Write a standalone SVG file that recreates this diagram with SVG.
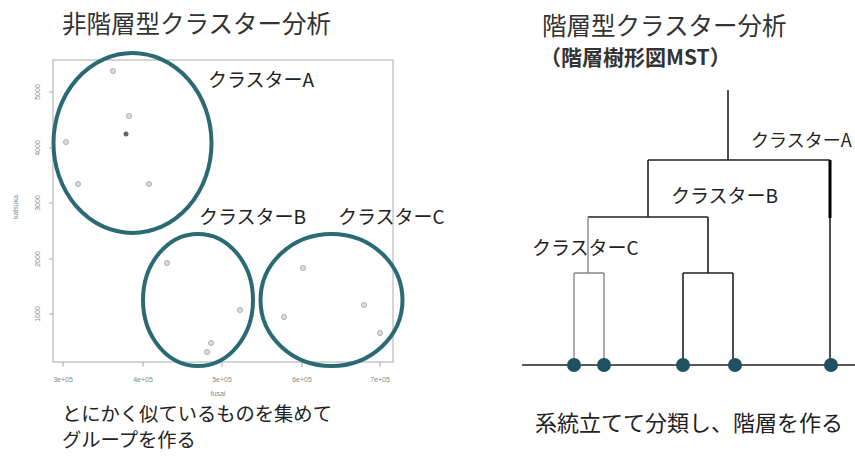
<svg xmlns="http://www.w3.org/2000/svg" width="855" height="466" viewBox="0 0 855 466">
<style>
text{font-family:"Noto Sans CJK JP","Noto Sans",sans-serif;fill:#333}
.title{font-size:24.5px}
.lbl{font-size:19px;fill:#222}
.note{font-size:19.3px;fill:#222}
.tick{font-size:7px;fill:#888;font-family:"Liberation Sans",sans-serif}
.ell{fill:none;stroke:#2b6a74;stroke-width:4}
.pt{fill:#ddd;stroke:#aaa;stroke-width:1}
.ax{stroke:#aaa;stroke-width:1;fill:none}
.dl{stroke:#222;stroke-width:1.6;fill:none}
.dg{stroke:#888;stroke-width:1.4;fill:none}
.leaf{fill:#1f5260}
</style>
<rect width="855" height="466" fill="#fff"/>

<g id="left-title"><text class="title" x="62" y="33">非階層型クラスター分析</text></g>

<g id="scatter-plot">
<rect class="ax" x="53" y="60" width="340" height="302"/>
<path class="ax" d="M63 362v5M143 362v5M222 362v5M302 362v5M380 362v5M53 92h-4M53 148h-4M53 203h-4M53 259h-4M53 314h-4"/>
<text class="tick" x="63" y="382" text-anchor="middle">3e+05</text>
<text class="tick" x="143" y="382" text-anchor="middle">4e+05</text>
<text class="tick" x="222" y="382" text-anchor="middle">5e+05</text>
<text class="tick" x="302" y="382" text-anchor="middle">6e+05</text>
<text class="tick" x="380" y="382" text-anchor="middle">7e+05</text>
<text class="tick" x="218" y="396" text-anchor="middle">fusai</text>
<text class="tick" transform="translate(40 92) rotate(-90)" text-anchor="middle">5000</text>
<text class="tick" transform="translate(40 148) rotate(-90)" text-anchor="middle">4000</text>
<text class="tick" transform="translate(40 203) rotate(-90)" text-anchor="middle">3000</text>
<text class="tick" transform="translate(40 259) rotate(-90)" text-anchor="middle">2000</text>
<text class="tick" transform="translate(40 314) rotate(-90)" text-anchor="middle">1000</text>
<text class="tick" transform="translate(18 207) rotate(-90)" text-anchor="middle">katsuka</text>
<circle class="pt" cx="113" cy="71" r="2.5"/>
<circle class="pt" cx="129" cy="116" r="2.5"/>
<circle cx="126" cy="134" r="2.5" fill="#666"/>
<circle class="pt" cx="66" cy="142" r="2.5"/>
<circle class="pt" cx="78" cy="184" r="2.5"/>
<circle class="pt" cx="149" cy="184" r="2.5"/>
<circle class="pt" cx="167" cy="263" r="2.5"/>
<circle class="pt" cx="240" cy="310" r="2.5"/>
<circle class="pt" cx="211" cy="343" r="2.5"/>
<circle class="pt" cx="207" cy="352" r="2.5"/>
<circle class="pt" cx="303" cy="268" r="2.5"/>
<circle class="pt" cx="284" cy="317" r="2.5"/>
<circle class="pt" cx="364" cy="305" r="2.5"/>
<circle class="pt" cx="380" cy="333" r="2.5"/>
</g>

<g id="cluster-a"><ellipse class="ell" cx="132.5" cy="143" rx="79" ry="90"/><text class="lbl" x="208" y="87">クラスターA</text></g>
<g id="cluster-b"><ellipse class="ell" cx="198" cy="300" rx="55" ry="66"/><text class="lbl" x="199" y="224">クラスターB</text></g>
<g id="cluster-c"><ellipse class="ell" cx="331.5" cy="300" rx="71" ry="66"/><text class="lbl" x="338" y="224">クラスターC</text></g>

<g id="left-note"><text class="note" x="62" y="421">とにかく似ているものを集めて</text><text class="note" x="62" y="447">グループを作る</text></g>

<g id="right-title">
<text class="title" x="542" y="35">階層型クラスター分析</text>
<text x="540" y="65" style="font-size:21px;font-weight:bold">（階層樹形図MST）</text>
</g>

<g id="connectors">
<path class="dl" d="M728 90V160M648 160H830M648 160V217M588 217H708M708 217V273M683 273H733M683 273V365M733 273V365M522 365H855"/>
<path class="dl" d="M830 160V365"/>
<path d="M830 160V218" stroke="#000" stroke-width="3"/>
<path class="dg" d="M588 217V273M574 273H604M574 273V365M604 273V365"/>
</g>

<g id="leaves">
<circle class="leaf" cx="574" cy="365" r="7"/>
<circle class="leaf" cx="604" cy="365" r="7"/>
<circle class="leaf" cx="683" cy="365" r="7"/>
<circle class="leaf" cx="735" cy="365" r="7"/>
<circle class="leaf" cx="831" cy="365" r="7"/>
</g>

<g id="dendro-labels">
<text class="lbl" x="751" y="147" style="font-size:18px">クラスターA</text>
<text class="lbl" x="671" y="203">クラスターB</text>
<text class="lbl" x="532" y="255">クラスターC</text>
</g>

<g id="right-note"><text x="535" y="431" style="font-size:22px;fill:#222">系統立てて分類し、階層を作る</text></g>
</svg>
